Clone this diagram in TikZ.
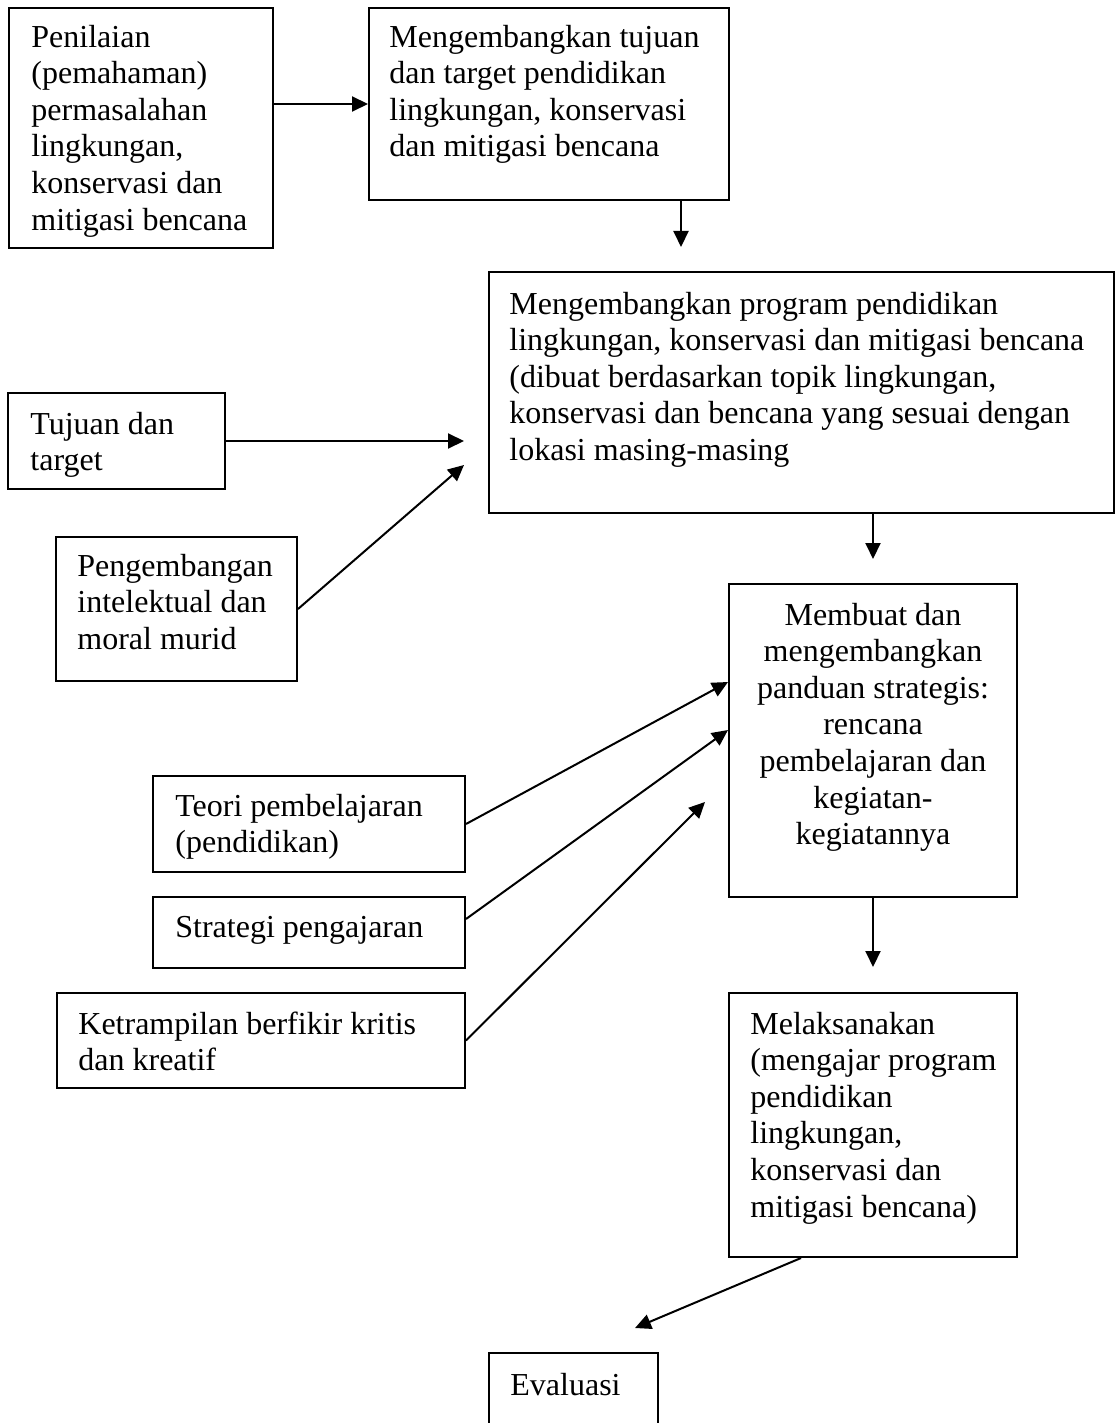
\documentclass[tikz,border=0pt]{standalone}
\usepackage{fontspec}
\setmainfont{Liberation Serif}
\usetikzlibrary{arrows.meta,fit}
\begin{document}
\begin{tikzpicture}[x=0.5pt,y=-0.5pt,
  box/.style={draw,line width=1pt,inner sep=0pt},
  txt/.style={inner sep=0pt,align=left,anchor=north west,font=\fontsize{16}{18.3}\selectfont},
  ctxt/.style={txt,align=center,anchor=north},
  arr/.style={line width=1pt,-{Triangle[length=8pt,width=7.5pt]}}]
\useasboundingbox (0,0) rectangle (1115,1423);
\clip (0,0) rectangle (1115,1423);
% boxes
\node[box,fit={(9,8)(273,248)}] (b1) {};
\node[box,fit={(369,8)(729,200)}] (b2) {};
\node[box,fit={(489,272)(1114,513)}] (b3) {};
\node[box,fit={(8,393)(225,489)}] (b4) {};
\node[box,fit={(56,537)(297,681)}] (b5) {};
\node[box,fit={(729,584)(1017,897)}] (b6) {};
\node[box,fit={(153,776)(465,872)}] (b7) {};
\node[box,fit={(153,897)(465,968)}] (b8) {};
\node[box,fit={(57,993)(465,1088)}] (b9) {};
\node[box,fit={(729,993)(1017,1257)}] (b10) {};
\node[box,fit={(489,1353)(658,1450)}] (b11) {};
% texts
\node[txt] (t1) at (31,21) {\strut Penilaian\\(pemahaman)\\permasalahan\\lingkungan,\\konservasi dan\\mitigasi bencana};
\node[txt] (t2) at (389,21) {\strut Mengembangkan tujuan\\dan target pendidikan\\lingkungan, konservasi\\dan mitigasi bencana};
\node[txt] (t3) at (509,288) {\strut Mengembangkan program pendidikan\\lingkungan, konservasi dan mitigasi bencana\\(dibuat berdasarkan topik lingkungan,\\konservasi dan bencana yang sesuai dengan\\lokasi masing-masing};
\node[txt] (t4) at (30,408) {\strut Tujuan dan\\target};
\node[txt] (t5) at (77,550) {\strut Pengembangan\\intelektual dan\\moral murid};
\node[ctxt] (t6) at (873,599) {\strut Membuat dan\\mengembangkan\\panduan strategis:\\rencana\\pembelajaran dan\\kegiatan-\\kegiatannya};
\node[txt] (t7) at (175,790) {\strut Teori pembelajaran\\(pendidikan)};
\node[txt] (t8) at (175,911) {\strut Strategi pengajaran};
\node[txt] (t9) at (78,1008) {\strut Ketrampilan berfikir kritis\\dan kreatif};
\node[txt] (t10) at (750,1008) {\strut Melaksanakan\\(mengajar program\\pendidikan\\lingkungan,\\konservasi dan\\mitigasi bencana)};
\node[txt] (t11) at (510,1369) {\strut Evaluasi};
% helper coordinates
\coordinate (p23) at (681,247);
\coordinate (p43) at (464,441);
\coordinate (p53) at (464,465);
\coordinate (p36) at (873,559);
\coordinate (h7) at (0,682);
\coordinate (h8a) at (0,919);
\coordinate (h8b) at (0,730);
\coordinate (p96) at (705,802);
\coordinate (p610) at (0,967);
\coordinate (v10) at (801,0);
\coordinate (p1011) at (635,1328);
% connectors
\draw[arr] (b1.east |- 0,104) -- (b2.west |- 0,104);
\draw[arr] (b2.south -| p23) -- (p23);
\draw[arr] (b4.east) -- (p43);
\draw[arr] (b5.east) -- (p53);
\draw[arr] (b3.south -| p36) -- (p36);
\draw[arr] (b7.east) -- (b6.west |- h7);
\draw[arr] (b8.east |- h8a) -- (b6.west |- h8b);
\draw[arr] (b9.east) -- (p96);
\draw[arr] (b6.south) -- (b6.south |- p610);
\draw[arr] (b10.south -| v10) -- (p1011);
\end{tikzpicture}
\end{document}
